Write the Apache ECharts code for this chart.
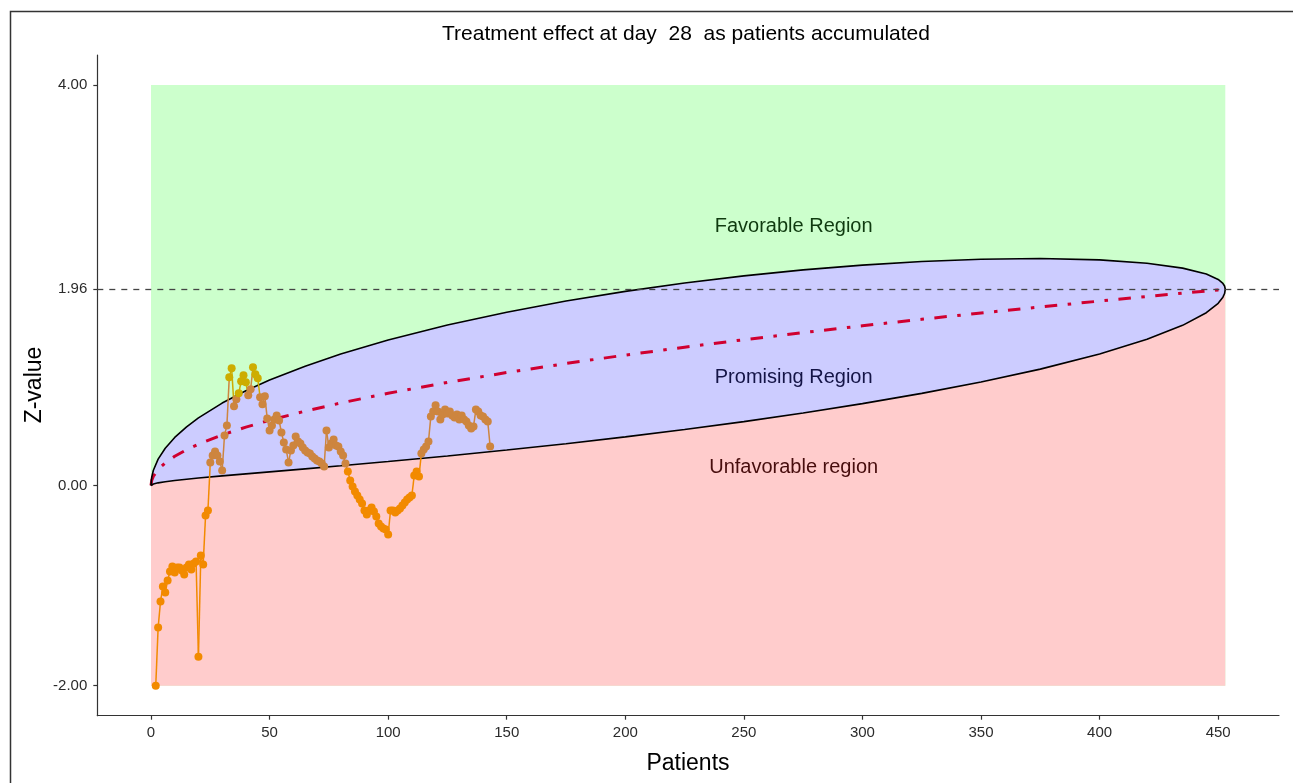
<!DOCTYPE html>
<html><head><meta charset="utf-8">
<script src="https://cdn.jsdelivr.net/npm/echarts@6/dist/echarts.min.js"></script>
<style>html,body{margin:0;padding:0;background:#fff}#c{width:1293px;height:783px}</style>
</head><body><div id="c"></div>
<script>
// Boundary curves
const boundaryN = [0,0.3,1,3,6,10,15,20,30,40,50,65,80,100,125,150,175,200,225,250,275,300,325,350,375,400,420,435,445,450,452,452.7,453];
const upperZ = [0,0.0834,0.1522,0.2635,0.3721,0.4795,0.5860,0.6751,0.8231,0.9461,1.0528,1.1917,1.3124,1.4524,1.6024,1.7310,1.8422,1.9387,2.0221,2.0934,2.1531,2.2012,2.2372,2.2600,2.2672,2.2537,2.2203,2.1710,2.1114,2.0575,2.0180,1.9923,1.96];
const lowerZ = [0,0.0081,0.0149,0.0261,0.0375,0.0495,0.0623,0.0739,0.0953,0.1157,0.1357,0.1658,0.1964,0.2387,0.2943,0.3537,0.4173,0.4855,0.5589,0.6380,0.7237,0.8171,0.9196,1.0334,1.1623,1.3131,1.4598,1.5994,1.7260,1.8201,1.8806,1.9171,1.96];
const trendZ = [0,0.0504,0.0921,0.1595,0.2256,0.2912,0.3567,0.4118,0.5044,0.5824,0.6512,0.7424,0.8237,0.9209,1.0296,1.1279,1.2182,1.3023,1.3813,1.4561,1.5271,1.5950,1.6602,1.7228,1.7833,1.8418,1.8873,1.9207,1.9426,1.9535,1.9578,1.9594,1.96];
const regionXMax = 453, regionYMin = -2, regionYMax = 4;

// Observed z-values as patients accumulated
const patients = [2,3,4,5,6,7,8,9,10,11,12,13,14,15,16,17,18,19,20,21,22,23,24,25,26,27,28,29,30,31,32,33,34,35,36,37,38,39,40,41,42,43,44,45,46,47,48,49,50,51,52,53,54,55,56,57,58,59,60,61,62,63,64,65,66,67,68,69,70,71,72,73,74,75,76,77,78,79,80,81,82,83,84,85,86,87,88,89,90,91,92,93,94,95,96,97,98,99,100,101,102,103,104,105,106,107,108,109,110,111,112,113,114,115,116,117,118,119,120,121,122,123,124,125,126,127,128,129,130,131,132,133,134,135,136,137,138,139,140,141,142,143];
const zValues = [-2.00,-1.42,-1.16,-1.01,-1.07,-0.95,-0.86,-0.81,-0.87,-0.82,-0.82,-0.85,-0.89,-0.82,-0.79,-0.84,-0.78,-0.76,-1.71,-0.70,-0.79,-0.30,-0.25,
  0.23,0.30,0.34,0.30,0.24,0.15,0.50,0.60,1.08,1.17,0.79,0.86,0.92,1.04,1.10,1.03,0.90,0.96,1.18,1.11,1.07,0.88,0.81,0.89,0.67,0.55,
  0.60,0.66,0.70,0.65,0.53,0.43,0.36,0.23,0.35,0.40,0.49,0.44,0.42,0.38,0.35,0.33,0.32,0.29,0.27,0.25,0.24,0.22,0.19,0.55,0.38,0.42,0.46,0.40,0.39,0.34,0.30,0.22,0.14,
  0.05,-0.01,-0.06,-0.10,-0.14,-0.18,-0.25,-0.29,-0.25,-0.22,-0.26,-0.31,-0.38,-0.41,-0.43,-0.44,-0.49,-0.25,-0.25,-0.27,-0.25,-0.23,-0.20,-0.17,-0.14,-0.12,-0.10,
  0.10,0.14,0.09,0.32,0.36,0.39,0.44,0.69,0.74,0.80,0.74,0.66,0.71,0.76,0.72,0.74,0.70,0.68,0.71,0.66,0.70,0.66,0.64,0.60,0.57,0.59,0.76,0.74,0.70,0.69,0.66,0.64,0.39];

const xTicks = [0,50,100,150,200,250,300,350,400,450];
const yTicks = [-2,0,1.96,4];
const regionLabels = [
  {n:271, z:2.585, text:'Favorable Region', color:'#0f3a0f'},
  {n:271, z:1.075, text:'Promising Region', color:'#141446'},
  {n:271, z:0.175, text:'Unfavorable region', color:'#470d0d'}
];

const COL_FILL_G = '#CCFFCC', COL_FILL_B = '#CCCCFF', COL_FILL_R = '#FFCCCC';
const COL_LOW = '#F28A00', COL_MID = '#CD853F', COL_HIGH = '#CDAD00';

function interp(xs, ys, x) {
  for (let i = 1; i < xs.length; i++) {
    if (x <= xs[i]) { const f = (x - xs[i-1]) / (xs[i] - xs[i-1]); return ys[i-1] + f * (ys[i] - ys[i-1]); }
  }
  return ys[ys.length-1];
}
function colorOf(n, z) {
  if (z > interp(boundaryN, upperZ, n)) return COL_HIGH;
  if (z < interp(boundaryN, lowerZ, n)) return COL_LOW;
  return COL_MID;
}

const pointColors = patients.map((n, i) => colorOf(n, zValues[i]));
const segData = [];
for (let i = 0; i < patients.length - 1; i++) {
  segData.push({coords: [[patients[i], zValues[i]], [patients[i+1], zValues[i+1]]], lineStyle: {color: pointColors[i]}});
}

const upperPts = boundaryN.map((n,i) => [n, upperZ[i]]);
const lowerPts = boundaryN.map((n,i) => [n, lowerZ[i]]);
const regionPolys = [
  {fill: COL_FILL_G, pts: [[0, regionYMin], [0, regionYMax], [regionXMax, regionYMax], [regionXMax, regionYMin]]},
  {fill: COL_FILL_B, pts: upperPts.concat(lowerPts.slice().reverse())},
  {fill: COL_FILL_R, pts: lowerPts.concat([[regionXMax, regionYMin], [0, regionYMin]])}
];

const chart = echarts.init(document.getElementById('c'), null, {renderer:'canvas'});
chart.setOption({
  animation: false,
  backgroundColor: '#fff',
  grid: {left: 97.3, right: 14, top: 55, bottom: 67.3, containLabel: false},
  xAxis: {
    type: 'value', min: -22.65, max: 475.65,
    splitLine: {show: false},
    axisLine: {onZero: false, lineStyle: {color: '#333', width: 1.2}},
    axisTick: {customValues: xTicks, length: 4, lineStyle: {color: '#333', width: 1.2}},
    axisLabel: {customValues: xTicks, color: '#2b2b2b', fontSize: 15, fontFamily: 'Liberation Sans', margin: 10}
  },
  yAxis: {
    type: 'value', min: -2.3, max: 4.3,
    splitLine: {show: false},
    axisLine: {show: true, onZero: false, lineStyle: {color: '#333', width: 1.2}},
    axisTick: {show: true, customValues: yTicks, length: 4, lineStyle: {color: '#333', width: 1.2}},
    axisLabel: {customValues: yTicks, color: '#2b2b2b', fontSize: 15, fontFamily: 'Liberation Sans', margin: 10,
      formatter: v => Number(v).toFixed(2)}
  },
  graphic: [
    {type:'rect', left: 8, top: 9, shape:{width: 1400, height: 900}, style:{fill:'none', stroke:'#333', lineWidth:1.5}, silent:true},
    {type:'text', x: 686, y: 34, style:{text:'Treatment effect at day  28  as patients accumulated', font:'21px "Liberation Sans"', fill:'#000', textAlign:'center', textVerticalAlign:'middle'}},
    {type:'text', x: 688, y: 764, style:{text:'Patients', font:'23px "Liberation Sans"', fill:'#000', textAlign:'center', textVerticalAlign:'middle'}},
    {type:'text', x: 35, y: 385, rotation: Math.PI/2, style:{text:'Z-value', font:'23px "Liberation Sans"', fill:'#000', textAlign:'center', textVerticalAlign:'middle'}}
  ],
  series: [
    {type:'custom', name:'regions', silent:true, z:1, data: regionPolys.map((r, i) => [i]),
      renderItem: (params, api) => {
        const r = regionPolys[params.dataIndex];
        return {type:'polygon', shape:{points: r.pts.map(p => api.coord(p))}, style:{fill: r.fill, stroke: null}};
      }},
    {type:'line', name:'trend', data: boundaryN.map((n,i) => [n, trendZ[i]]), symbol:'none', silent:true, z:3,
      lineStyle:{color:'#D00030', width:3, type:[12.5,10.5,3.5,10.5], cap:'butt'}},
    {type:'line', name:'upper', data: upperPts, symbol:'none', silent:true, z:3,
      lineStyle:{color:'#000', width:1.6},
      markLine:{silent:true, symbol:['none','none'], label:{show:false}, lineStyle:{color:'#444', type:[6,6], width:1.3}, data:[{yAxis:1.96}]}},
    {type:'line', name:'lower', data: lowerPts, symbol:'none', silent:true, z:3,
      lineStyle:{color:'#000', width:1.6}},
    {type:'custom', name:'labels', silent:true, z:3, data: regionLabels.map((r, i) => [r.n, r.z]),
      renderItem: (params, api) => {
        const r = regionLabels[params.dataIndex];
        const c = api.coord([api.value(0), api.value(1)]);
        return {type:'text', x: c[0], y: c[1], style:{text: r.text, fill: r.color, font:'20px "Liberation Sans"', textAlign:'center', textVerticalAlign:'middle'}};
      }},
    {type:'lines', coordinateSystem:'cartesian2d', silent:true, z:4, lineStyle:{width:1.5, opacity:1}, data: segData},
    {type:'scatter', name:'obs', silent:true, z:5, symbolSize:8,
      data: patients.map((n,i) => ({value:[n, zValues[i]], itemStyle:{color: pointColors[i], opacity:1}}))}
  ]
});
</script></body></html>
